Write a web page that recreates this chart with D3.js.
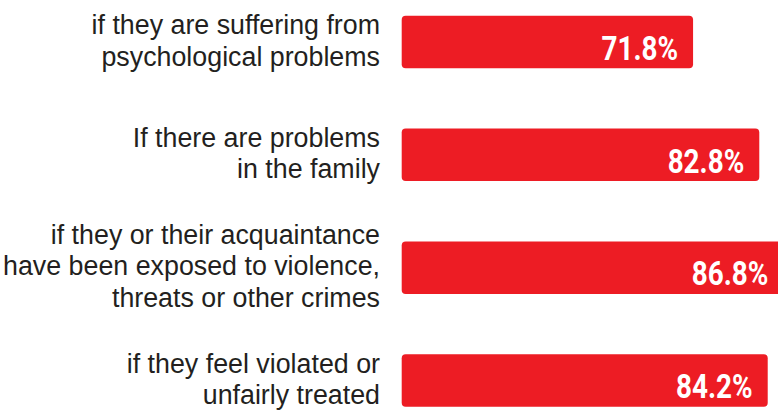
<!DOCTYPE html>
<html>
<head>
<meta charset="utf-8">
<script src="https://cdn.jsdelivr.net/npm/d3@7"></script>
<style>
  html, body { margin: 0; padding: 0; background: #ffffff; }
  svg { display: block; }
</style>
</head>
<body>
<svg id="chart" width="778" height="413"></svg>
<script>
// Reasons, each split into its printed lines
const categories = [
  ["if they are suffering from", "psychological problems"],
  ["If there are problems", "in the family"],
  ["if they or their acquaintance", "have been exposed to violence,", "threats or other crimes"],
  ["if they feel violated or", "unfairly treated"]
];
const values = [71.8, 82.8, 86.8, 84.2];
const valueLabels = ["71.8%", "82.8%", "86.8%", "84.2%"];

const svg = d3.select("#chart");
const keys = categories.map((c, i) => i);

const barLeft = 401.7;

// Value axis starts part-way, so bars share a common baseline offset
const x = d3.scaleLinear().domain([23.4, 100]).range([barLeft, barLeft + 6.02 * 76.6]);

const y = d3.scaleBand()
  .domain(keys)
  .range([15.7, 406.8])
  .paddingInner(0.535)
  .paddingOuter(0);

const red = "#ed1c24";
const ink = "#231f20";

// Bars
svg.selectAll("rect.bar")
  .data(values)
  .join("rect")
  .attr("class", "bar")
  .attr("x", x(x.domain()[0]))
  .attr("y", (d, i) => y(i))
  .attr("width", d => x(d) - x(x.domain()[0]))
  .attr("height", y.bandwidth())
  .attr("rx", 4)
  .attr("ry", 4)
  .attr("fill", red);

// Value labels inside the bar ends
svg.selectAll("text.value")
  .data(values)
  .join("text")
  .attr("class", "value")
  .attr("transform", (d, i) => `translate(${x(d) - 15},${y(i) + y.bandwidth() - 8.5}) scale(0.82,1)`)
  .attr("text-anchor", "end")
  .attr("fill", "#ffffff")
  .attr("font-family", "Roboto, 'Liberation Sans', sans-serif")
  .attr("font-weight", 700)
  .attr("font-size", 34)
  .text((d, i) => valueLabels[i]);

// Category labels, right-aligned beside the bars
const lineH = 31.6;
const labels = svg.selectAll("text.cat")
  .data(categories)
  .join("text")
  .attr("class", "cat")
  .attr("text-anchor", "end")
  .attr("fill", ink)
  .attr("font-family", "'Liberation Sans', Arial, sans-serif")
  .attr("font-size", 26.8);

labels.each(function(lines, i) {
  const cy = y(i) + y.bandwidth() / 2;
  const n = lines.length;
  d3.select(this).selectAll("tspan")
    .data(lines)
    .join("tspan")
    .attr("x", 380)
    .attr("y", (d, k) => cy + (k - (n - 1) / 2) * lineH + 7.8)
    .text(d => d);
});
</script>
</body>
</html>
